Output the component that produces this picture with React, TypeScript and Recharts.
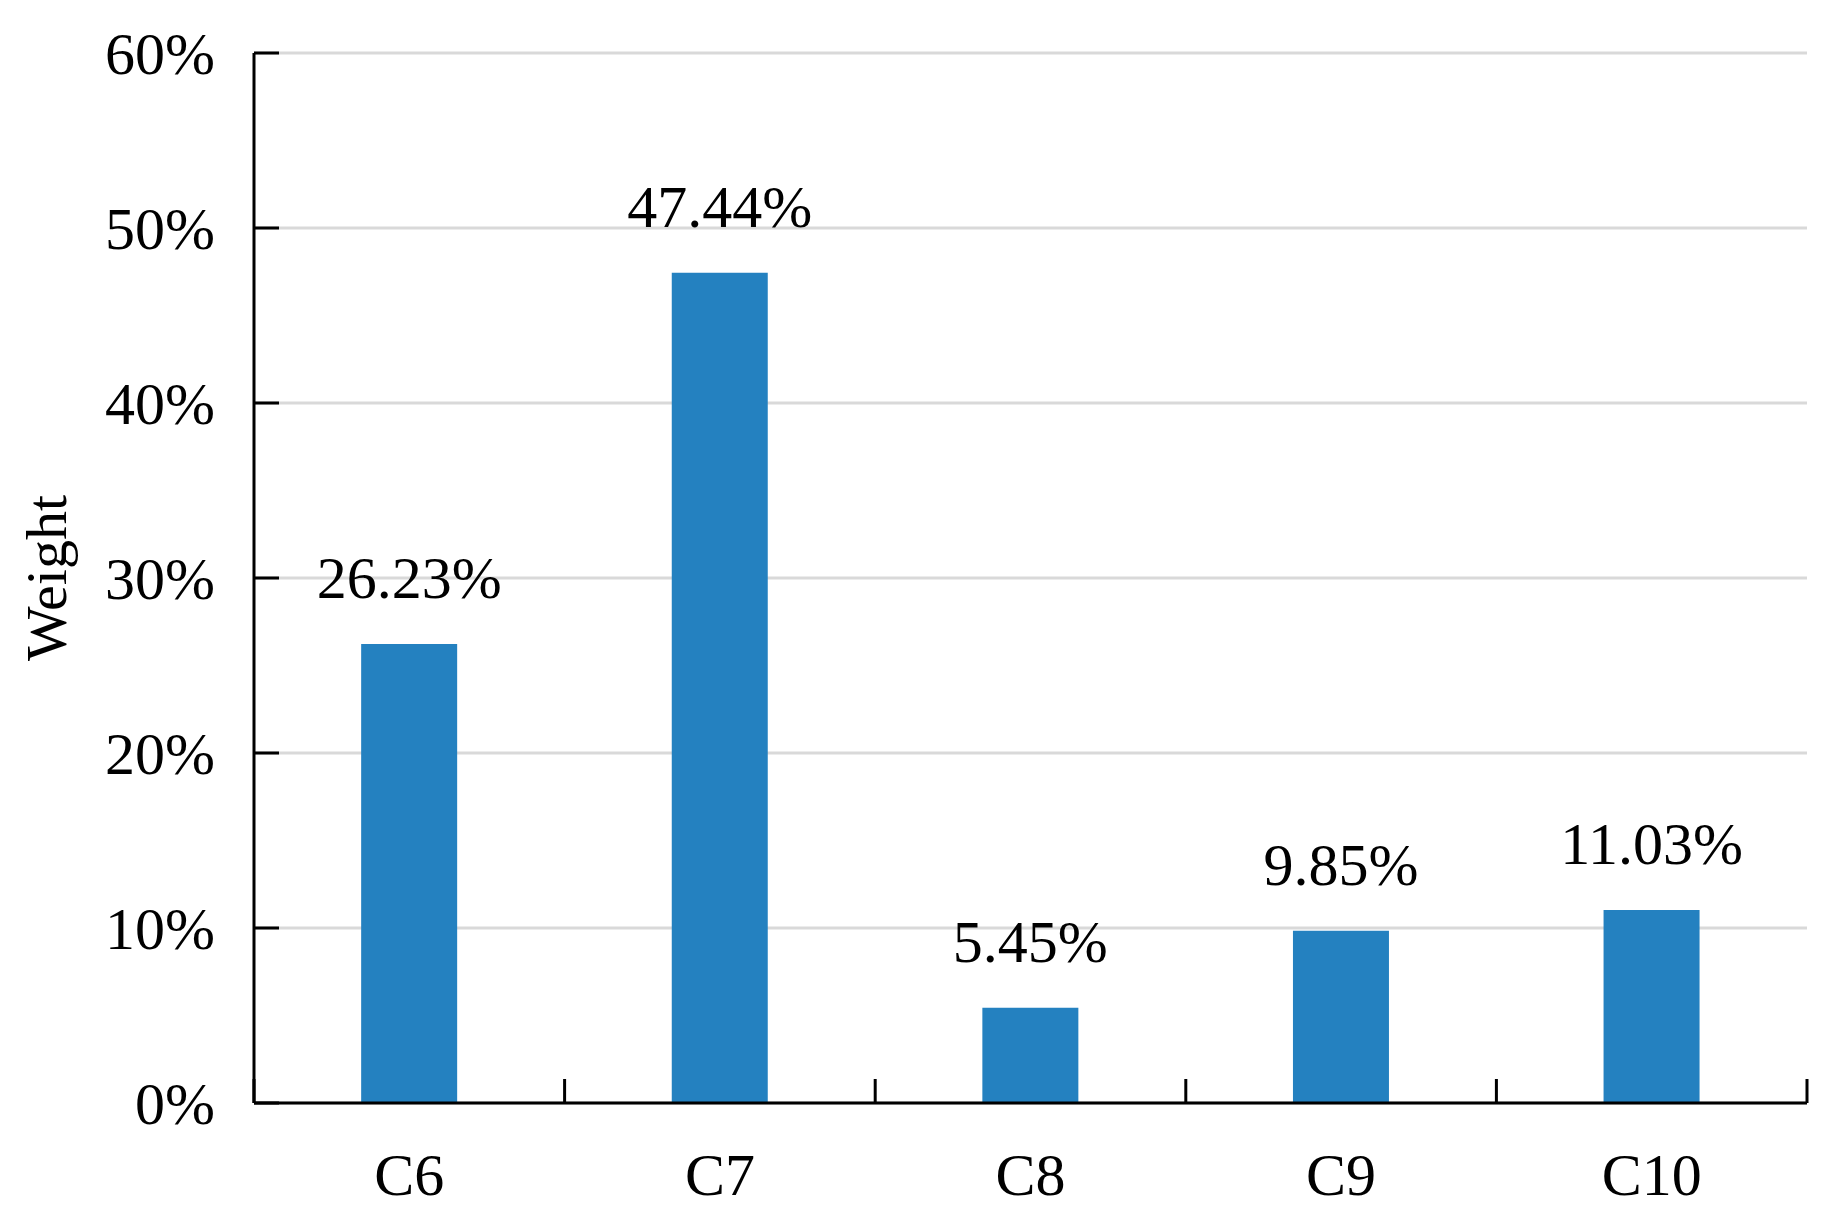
import { BarChart, Bar, XAxis, YAxis, CartesianGrid, LabelList } from "recharts";

const categories = ["C6", "C7", "C8", "C9", "C10"];
const weights = [26.23, 47.44, 5.45, 9.85, 11.03];
const yTicks = [0, 10, 20, 30, 40, 50, 60];

const FONT = '"Liberation Serif", "Times New Roman", serif';
const BLUE = "#2481c0";
const X_TICK_MARGIN = 49;
const EDGE_TICK = 24;

const chartData = categories.map((name, i) => ({ name, value: weights[i] }));

const noLabel = () => "";

// category label plus the short upward marks at the band edges
const CategoryTick = (props: any) => {
    const { x, y, payload, width, index, visibleTicksCount } = props;
    const band = width / visibleTicksCount;
    const axisY = y - X_TICK_MARGIN;
    const left = x - band / 2;
    const right = x + band / 2;
    const last = index === visibleTicksCount - 1;
    return (
        <g>
            <line x1={left} x2={left} y1={axisY} y2={axisY - EDGE_TICK} stroke="#000" strokeWidth={3} />
            {last && <line x1={right} x2={right} y1={axisY} y2={axisY - EDGE_TICK} stroke="#000" strokeWidth={3} />}
            <text x={x} y={y} dy="0.71em" textAnchor="middle" fill="#000" fontSize={60} fontFamily={FONT}>
                {payload.value}
            </text>
        </g>
    );
};

const App = () => {
    return (
        <div style={{ position: "absolute", left: 0, top: 0, width: 1836, height: 1223, background: "#fff" }}>
            <BarChart
                width={1836}
                height={1223}
                data={chartData}
                margin={{ top: 53, right: 29, left: 0, bottom: 0 }}
                barCategoryGap="34.5%"
            >
                <CartesianGrid horizontal vertical={false} stroke="#d9d9d9" strokeWidth={3} />
                <XAxis
                    dataKey="name"
                    height={120}
                    interval={0}
                    tickLine={false}
                    tickSize={0}
                    tickMargin={X_TICK_MARGIN}
                    axisLine={{ stroke: "#000", strokeWidth: 3 }}
                    tick={<CategoryTick />}
                />
                <YAxis
                    width={254}
                    domain={[0, 60]}
                    ticks={yTicks}
                    interval={0}
                    tickLine={false}
                    tickSize={0}
                    tickMargin={39}
                    tickFormatter={(v: number) => `${v}%`}
                    axisLine={{ stroke: "#000", strokeWidth: 3 }}
                    tick={{ fill: "#000", fontSize: 60, fontFamily: FONT }}
                    label={{
                        value: "Weight",
                        angle: -90,
                        position: "insideLeft",
                        offset: 45,
                        style: { textAnchor: "middle", fill: "#000", fontSize: 58, fontFamily: FONT },
                    }}
                />
                {/* inward tick marks on the value axis */}
                <YAxis
                    yAxisId="edge"
                    type="number"
                    domain={[0, 60]}
                    allowDataOverflow
                    ticks={yTicks}
                    interval={0}
                    mirror
                    tickFormatter={noLabel}
                    axisLine={false}
                    tickSize={25}
                    tickLine={{ stroke: "#000", strokeWidth: 3 }}
                />
                <Bar dataKey="value" fill={BLUE} isAnimationActive={false}>
                    <LabelList
                        dataKey="value"
                        position="top"
                        offset={46}
                        formatter={(v: number) => `${v.toFixed(2)}%`}
                        style={{ fill: "#000", fontSize: 60, fontFamily: FONT }}
                    />
                </Bar>
            </BarChart>
        </div>
    );
};

export default App;
